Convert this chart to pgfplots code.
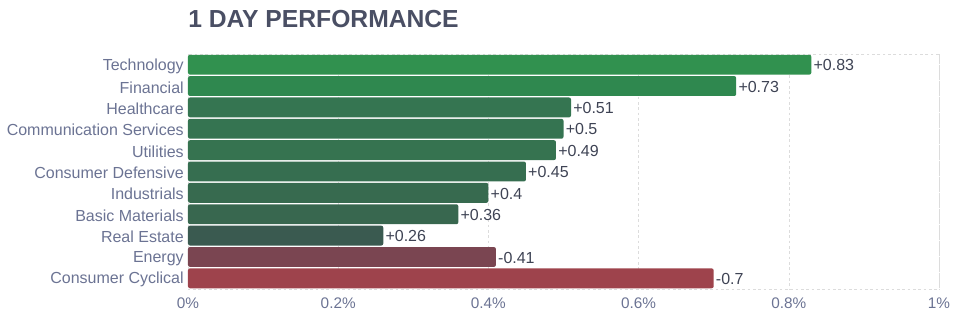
\documentclass[border=0pt]{standalone}
\usepackage{fontspec}
\setmainfont{Liberation Sans}
\usepackage{pgfplots}
\pgfplotsset{compat=1.18}
\definecolor{c1}{HTML}{31914F}
\definecolor{c2}{HTML}{2F884F}
\definecolor{c3}{HTML}{357551}
\definecolor{c4}{HTML}{357451}
\definecolor{c5}{HTML}{367350}
\definecolor{c6}{HTML}{366E50}
\definecolor{c7}{HTML}{376A4F}
\definecolor{c8}{HTML}{38674F}
\definecolor{c9}{HTML}{3A5A50}
\definecolor{c10}{HTML}{7A4551}
\definecolor{c11}{HTML}{9E434C}
\definecolor{labelgray}{HTML}{6B7393}
\definecolor{valgray}{HTML}{3E4354}
\definecolor{titlegray}{HTML}{4A4F64}
\definecolor{gridgray}{HTML}{DCDCDC}
\begin{document}
\begin{tikzpicture}
\begin{axis}[
  name=ax,
  scale only axis, width=563.25pt, height=176.25pt,
  xmin=0, xmax=1, ymin=-0.5, ymax=10.5, y dir=reverse,
  xbar, bar width=0.93, bar shift=0pt,
  xtick={0,0.2,0.4,0.6,0.8,1},
  xticklabels={0\%,0.2\%,0.4\%,0.6\%,0.8\%,1\%},
  ytick={0,1,2,3,4,5,6,7,8,9,10},
  yticklabels={Technology,Financial,Healthcare,Communication Services,Utilities,Consumer Defensive,Industrials,Basic Materials,Real Estate,Energy,Consumer Cyclical},
  major tick length=0pt,
  xmajorgrids,
  grid style={draw=gridgray, dash pattern=on 2pt off 2pt},
  axis line style={draw=gridgray, dash pattern=on 2pt off 2pt},
  xticklabel style={font=\fontsize{11.5}{12}\selectfont, text=labelgray, yshift=-3pt},
  yticklabel style={font=\fontsize{12}{13}\selectfont, text=labelgray, inner sep=3pt, yshift=-1pt},
  nodes near coords, point meta=explicit symbolic,
  every node near coord/.append style={anchor=west, font=\fontsize{12}{13}\selectfont, text=valgray, inner sep=1.5pt, yshift=-0.5pt},
  clip=false,
]
\addplot[fill=c1, draw=none, rounded corners=1.5pt] coordinates {(0.83,0) [+0.83]};
\addplot[fill=c2, draw=none, rounded corners=1.5pt] coordinates {(0.73,1) [+0.73]};
\addplot[fill=c3, draw=none, rounded corners=1.5pt] coordinates {(0.51,2) [+0.51]};
\addplot[fill=c4, draw=none, rounded corners=1.5pt] coordinates {(0.50,3) [+0.5]};
\addplot[fill=c5, draw=none, rounded corners=1.5pt] coordinates {(0.49,4) [+0.49]};
\addplot[fill=c6, draw=none, rounded corners=1.5pt] coordinates {(0.45,5) [+0.45]};
\addplot[fill=c7, draw=none, rounded corners=1.5pt] coordinates {(0.40,6) [+0.4]};
\addplot[fill=c8, draw=none, rounded corners=1.5pt] coordinates {(0.36,7) [+0.36]};
\addplot[fill=c9, draw=none, rounded corners=1.5pt] coordinates {(0.26,8) [+0.26]};
\addplot[fill=c10, draw=none, rounded corners=1.5pt] coordinates {(0.41,9) [-0.41]};
\addplot[fill=c11, draw=none, rounded corners=1.5pt] coordinates {(0.70,10) [-0.7]};
\end{axis}
\node[anchor=base west, font=\bfseries\fontsize{18.5}{20}\selectfont, text=titlegray, inner sep=0pt] at ([yshift=20.25pt]ax.north west) {1 DAY PERFORMANCE};
\path[use as bounding box] ([xshift=-141pt,yshift=-27.75pt]ax.south west) rectangle ([xshift=22.5pt,yshift=40.5pt]ax.north east);
\end{tikzpicture}
\end{document}
